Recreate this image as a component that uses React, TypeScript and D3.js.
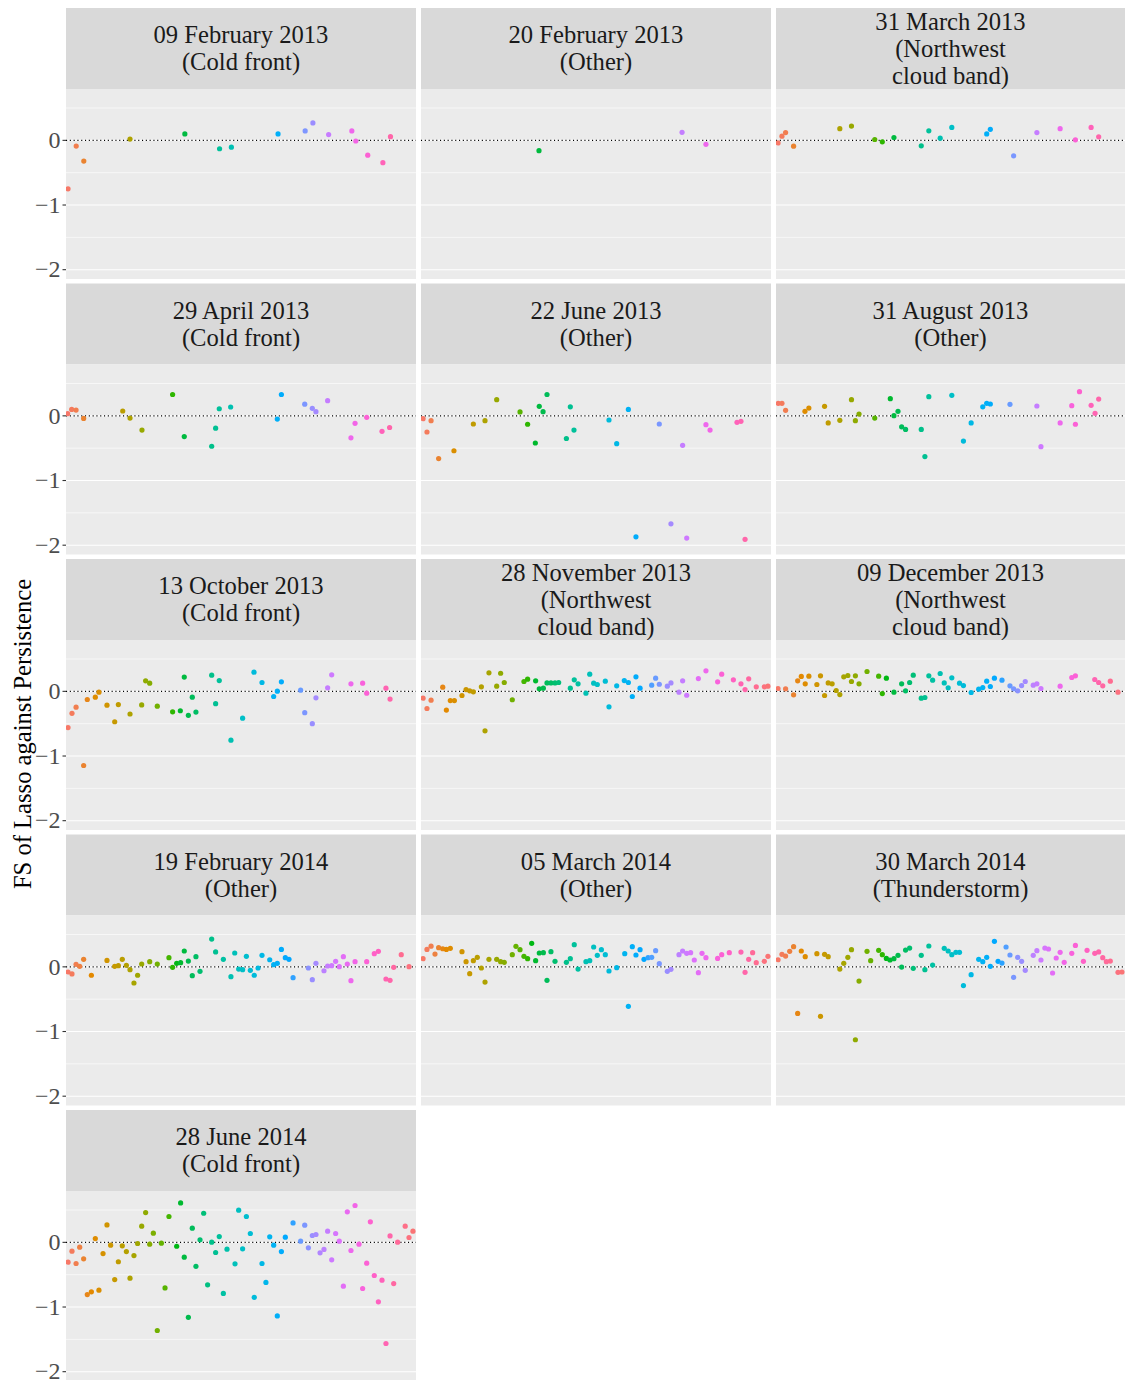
import React from "react";
import * as d3 from "d3";

// Each case: [hour of day, FS of Lasso against Persistence]
const feb09_2013: [number, number][] = [
  [0.14, -0.75], [0.7, -0.088], [1.22, -0.32], [4.39, 0.02], [8.15, 0.1], [10.53, -0.13], [11.34, -0.105],
  [14.54, 0.1], [16.4, 0.145], [16.93, 0.27], [18.01, 0.09], [19.6, 0.145], [19.87, -0.01], [20.69, -0.23],
  [21.73, -0.345], [22.25, 0.057],
];
const feb20_2013: [number, number][] = [[8.09, -0.16], [17.9, 0.124], [19.54, -0.062]];
const mar31_2013: [number, number][] = [
  [0.14, -0.04], [0.41, 0.064], [0.66, 0.12], [1.21, -0.09], [4.39, 0.18], [5.19, 0.22], [6.79, 0.013],
  [7.31, -0.023], [8.11, 0.044], [9.99, -0.085], [10.51, 0.147], [11.29, 0.034], [12.09, 0.2], [14.49, 0.1],
  [14.74, 0.17], [16.34, -0.24], [17.94, 0.12], [19.54, 0.18], [20.59, 0.008], [21.67, 0.2], [22.19, 0.054],
];
const apr29_2013: [number, number][] = [
  [0.11, 0.034], [0.39, 0.1], [0.69, 0.09], [1.21, -0.04], [3.89, 0.075], [4.39, -0.034], [5.21, -0.22],
  [7.31, 0.33], [8.11, -0.32], [9.99, -0.47], [10.26, -0.19], [10.51, 0.11], [11.29, 0.137], [14.49, -0.05],
  [14.77, 0.33], [16.37, 0.18], [16.89, 0.116], [17.14, 0.064], [17.94, 0.235], [19.54, -0.34], [19.82, -0.116],
  [20.62, -0.023], [21.67, -0.24], [22.19, -0.18],
];
const jun22_2013: [number, number][] = [
  [0.14, -0.044], [0.41, -0.25], [0.69, -0.075], [1.21, -0.66], [2.26, -0.54], [3.59, -0.126], [4.39, -0.075],
  [5.19, 0.25], [6.79, 0.06], [7.31, -0.13], [7.84, -0.42], [8.11, 0.147], [8.37, 0.064], [8.64, 0.33],
  [9.97, -0.35], [10.24, 0.14], [10.49, -0.22], [12.89, -0.064], [13.42, -0.43], [14.22, 0.1], [14.74, -1.87],
  [16.34, -0.126], [17.14, -1.67], [17.94, -0.456], [18.22, -1.89], [19.54, -0.137], [19.82, -0.22],
  [21.67, -0.1], [21.94, -0.085], [22.22, -1.91],
];
const aug31_2013: [number, number][] = [
  [0.16, 0.193], [0.41, 0.193], [0.66, 0.085], [1.99, 0.07], [2.26, 0.12], [3.34, 0.147], [3.59, -0.11],
  [4.39, -0.07], [5.19, 0.25], [5.46, -0.075], [5.71, 0.028], [6.79, -0.034], [7.86, 0.265], [8.11, 0.003],
  [8.39, 0.07], [8.64, -0.17], [8.91, -0.21], [9.99, -0.21], [10.24, -0.63], [10.51, 0.296], [12.09, 0.317],
  [12.89, -0.39], [13.42, -0.11], [14.22, 0.14], [14.49, 0.193], [14.74, 0.183], [16.09, 0.178], [17.94, 0.152],
  [18.22, -0.477], [19.54, -0.11], [20.34, 0.157], [20.59, -0.13], [20.87, 0.374], [21.67, 0.162],
  [21.94, 0.039], [22.19, 0.26],
];
const oct13_2013: [number, number][] = [
  [0.14, -0.56], [0.41, -0.34], [0.69, -0.245], [1.21, -1.147], [1.46, -0.126], [2.01, -0.09], [2.26, -0.013],
  [2.81, -0.214], [3.34, -0.47], [3.59, -0.204], [4.39, -0.35], [5.19, -0.21], [5.46, 0.162], [5.74, 0.126],
  [6.26, -0.23], [7.31, -0.317], [7.84, -0.3], [8.11, 0.22], [8.39, -0.37], [8.66, -0.09], [8.91, -0.32],
  [9.99, 0.25], [10.26, -0.19], [10.51, 0.167], [11.31, -0.755], [12.11, -0.415], [12.89, 0.296],
  [13.44, 0.137], [14.24, -0.08], [14.49, 0.003], [14.77, 0.147], [16.09, 0.018], [16.37, -0.33],
  [16.89, -0.5], [17.14, -0.1], [17.94, 0.054], [18.22, 0.255], [19.54, 0.116], [20.34, 0.126],
  [20.62, -0.028], [21.94, 0.049], [22.22, -0.12],
];
const nov28_2013: [number, number][] = [
  [0.14, -0.106], [0.41, -0.265], [0.69, -0.137], [1.49, 0.064], [1.74, -0.29], [2.01, -0.142], [2.29, -0.142],
  [2.81, -0.064], [3.09, 0.028], [3.34, 0.008], [3.59, -0.008], [4.14, 0.07], [4.39, -0.61], [4.66, 0.286],
  [5.19, 0.08], [5.46, 0.28], [5.71, 0.137], [6.26, -0.13], [7.06, 0.152], [7.31, 0.188], [7.86, 0.162],
  [8.11, 0.039], [8.39, 0.049], [8.64, 0.13], [8.91, 0.13], [9.19, 0.13], [9.44, 0.137], [10.24, 0.049],
  [10.51, 0.178], [10.77, 0.116], [11.31, -0.028], [11.57, 0.265], [11.84, 0.126], [12.09, 0.106],
  [12.64, 0.157], [12.89, -0.24], [13.42, 0.085], [13.94, 0.167], [14.22, 0.137], [14.49, -0.08],
  [14.74, 0.224], [15.02, 0.049], [15.82, 0.095], [16.09, 0.204], [16.34, 0.11], [16.89, 0.08], [17.14, 0.13],
  [17.69, -0.013], [17.94, 0.162], [18.22, -0.06], [19.02, 0.198], [19.54, 0.317], [20.34, 0.147],
  [20.62, 0.265], [21.42, 0.178], [21.94, 0.116], [22.22, 0.028], [22.47, 0.193], [22.99, 0.07],
  [23.54, 0.07], [23.79, 0.08],
];
const dec09_2013: [number, number][] = [
  [0.14, 0.044], [0.66, 0.039], [1.21, -0.054], [1.49, 0.162], [1.74, 0.23], [2.01, 0.116], [2.26, 0.235],
  [2.81, 0.106], [3.06, 0.24], [3.34, -0.064], [3.59, 0.13], [3.86, 0.116], [4.14, 0.013], [4.39, -0.05],
  [4.66, 0.224], [4.94, 0.245], [5.19, 0.152], [5.46, 0.24], [5.71, 0.116], [6.26, 0.307], [7.06, 0.235],
  [7.31, -0.034], [7.59, 0.204], [8.11, -0.013], [8.64, 0.116], [8.91, 0.008], [9.19, 0.137], [9.44, 0.25],
  [9.99, -0.106], [10.24, -0.095], [10.51, 0.24], [10.77, 0.173], [11.29, 0.276], [11.57, 0.131],
  [11.84, 0.054], [12.09, 0.209], [12.62, 0.126], [12.89, 0.09], [13.42, -0.018], [13.94, 0.034],
  [14.22, 0.059], [14.49, 0.157], [14.74, 0.075], [15.02, 0.204], [15.54, 0.173], [16.09, 0.085],
  [16.34, 0.039], [16.62, 0.008], [16.89, 0.09], [17.14, 0.152], [17.69, 0.095], [17.94, 0.116],
  [18.22, 0.044], [19.54, 0.08], [20.34, 0.214], [20.59, 0.24], [21.92, 0.183], [22.19, 0.137],
  [22.47, 0.085], [22.99, 0.157], [23.52, -0.013],
];
const feb19_2014: [number, number][] = [
  [0.14, -0.08], [0.41, -0.11], [0.69, 0.039], [0.94, 0.008], [1.21, 0.116], [1.74, -0.13], [2.81, 0.1],
  [3.34, 0.008], [3.59, 0.018], [3.86, 0.116], [4.14, 0.023], [4.39, -0.044], [4.66, -0.25], [4.91, -0.13],
  [5.19, 0.044], [5.74, 0.08], [6.26, 0.044], [7.06, 0.142], [7.31, -0.008], [7.59, 0.054], [7.86, 0.064],
  [8.11, 0.245], [8.39, 0.09], [8.66, -0.137], [8.91, 0.157], [9.19, -0.07], [9.99, 0.43], [10.26, 0.23],
  [10.79, 0.116], [11.31, -0.152], [11.57, 0.214], [11.84, -0.034], [12.11, -0.044], [12.37, 0.162],
  [12.64, -0.054], [12.91, -0.13], [13.17, -0.018], [13.44, 0.178], [13.97, 0.11], [14.24, 0.034],
  [14.49, 0.054], [14.77, 0.27], [15.04, 0.142], [15.29, 0.116], [15.57, -0.167], [16.62, -0.018],
  [16.89, -0.198], [17.14, 0.054], [17.69, -0.06], [17.94, 0.013], [18.22, 0.018], [18.49, 0.085],
  [18.74, 0.003], [19.02, 0.157], [19.29, 0.044], [19.54, -0.214], [19.82, 0.08], [20.62, 0.08],
  [21.14, 0.204], [21.42, 0.24], [21.94, -0.188], [22.22, -0.209], [22.47, -0.008], [22.99, 0.188],
  [23.52, 0.003],
];
const mar05_2014: [number, number][] = [
  [0.14, 0.126], [0.41, 0.27], [0.69, 0.32], [0.96, 0.198], [1.21, 0.296], [1.49, 0.28], [1.74, 0.27],
  [2.01, 0.286], [2.81, 0.235], [3.09, 0.08], [3.34, -0.106], [3.59, 0.095], [3.86, 0.147], [4.14, -0.018],
  [4.39, -0.235], [4.66, 0.116], [5.19, 0.116], [5.46, 0.08], [5.71, 0.07], [6.26, 0.188], [6.51, 0.317],
  [6.79, 0.265], [7.06, 0.162], [7.31, 0.126], [7.59, 0.363], [7.86, 0.095], [8.11, 0.214], [8.39, 0.219],
  [8.64, -0.209], [8.91, 0.235], [9.19, 0.085], [9.97, 0.07], [10.24, 0.126], [10.51, 0.343], [10.77, -0.034],
  [11.31, 0.08], [11.57, 0.095], [11.84, 0.307], [12.09, 0.178], [12.37, 0.265], [12.64, 0.188],
  [12.89, -0.064], [13.42, -0.013], [13.97, 0.204], [14.22, -0.61], [14.49, 0.312], [14.74, 0.183],
  [15.02, 0.265], [15.29, 0.116], [15.57, 0.142], [15.82, 0.147], [16.09, 0.25], [16.34, 0.049],
  [16.89, -0.07], [17.14, -0.039], [17.69, 0.188], [17.94, 0.245], [18.22, 0.209], [18.49, 0.219],
  [18.74, 0.106], [19.02, -0.09], [19.27, 0.209], [19.54, 0.142], [20.34, 0.131], [20.62, 0.188],
  [21.14, 0.219], [21.94, 0.229], [22.22, -0.085], [22.47, 0.116], [22.74, 0.219], [22.99, 0.064],
  [23.54, 0.085], [23.79, 0.162],
];
const mar30_2014: [number, number][] = [
  [0.14, 0.11], [0.41, 0.193], [0.66, 0.167], [0.94, 0.24], [1.21, 0.312], [1.49, -0.72], [1.74, 0.245],
  [2.01, 0.157], [2.81, 0.204], [3.06, -0.765], [3.34, 0.193], [3.59, 0.157], [4.39, -0.034], [4.66, 0.054],
  [4.94, 0.147], [5.19, 0.265], [5.46, -1.127], [5.71, -0.22], [6.26, 0.24], [6.51, 0.095], [7.06, 0.255],
  [7.31, 0.188], [7.59, 0.131], [7.84, 0.106], [8.11, 0.126], [8.39, 0.178], [8.64, -0.003], [8.91, 0.26],
  [9.19, 0.29], [9.44, -0.023], [9.99, 0.178], [10.24, -0.044], [10.51, 0.322], [10.77, 0.028],
  [11.57, 0.286], [11.84, 0.245], [12.09, 0.188], [12.37, 0.224], [12.62, 0.224], [12.89, -0.29],
  [13.42, -0.121], [13.94, 0.116], [14.22, 0.08], [14.49, 0.147], [14.74, 0.008], [15.02, 0.394],
  [15.27, 0.085], [15.54, 0.059], [15.82, 0.307], [16.09, 0.183], [16.34, -0.162], [16.62, 0.147],
  [16.89, 0.085], [17.14, -0.054], [17.69, 0.178], [17.94, 0.25], [18.22, 0.106], [18.49, 0.29],
  [18.74, 0.276], [19.02, -0.095], [19.27, 0.137], [19.54, 0.224], [19.82, 0.07], [20.34, 0.209],
  [20.59, 0.332], [21.14, 0.085], [21.39, 0.255], [21.92, 0.209], [22.19, 0.23], [22.47, 0.142],
  [22.72, 0.08], [22.99, 0.09], [23.52, -0.085], [23.79, -0.08],
];
const jun28_2014: [number, number][] = [
  [0.14, -0.307], [0.41, -0.137], [0.69, -0.327], [0.94, -0.075], [1.21, -0.255], [1.46, -0.807],
  [1.74, -0.765], [2.01, 0.059], [2.26, -0.74], [2.54, -0.173], [2.81, 0.27], [3.06, -0.044], [3.34, -0.575],
  [3.59, -0.3], [3.86, -0.054], [4.14, -0.142], [4.39, -0.554], [4.66, -0.204], [4.91, -0.018], [5.19, 0.25],
  [5.46, 0.46], [5.74, -0.028], [5.99, 0.142], [6.26, -1.363], [6.54, -0.013], [6.79, -0.704], [7.06, 0.4],
  [7.59, -0.06], [7.86, 0.61], [8.11, -0.23], [8.39, -1.16], [8.66, 0.219], [8.91, -0.37], [9.19, 0.039],
  [9.44, 0.45], [9.71, -0.657], [9.99, 0.003], [10.26, -0.157], [10.51, 0.09], [10.79, -0.79],
  [11.04, -0.106], [11.59, -0.332], [11.84, 0.497], [12.11, -0.1], [12.37, 0.4], [12.64, 0.137],
  [12.91, -0.85], [13.44, -0.327], [13.71, -0.62], [13.97, 0.085], [14.24, -0.044], [14.49, -1.137],
  [14.77, -0.142], [15.04, 0.08], [15.57, 0.3], [16.09, 0.018], [16.37, 0.265], [16.62, -0.085],
  [16.89, 0.106], [17.14, 0.121], [17.42, -0.162], [17.69, -0.11], [17.94, 0.173], [18.22, -0.27],
  [18.49, 0.137], [18.74, 0.018], [19.02, -0.678], [19.29, 0.472], [19.54, -0.126], [19.82, 0.57],
  [20.09, -0.028], [20.34, -0.714], [20.62, -0.322], [20.87, 0.317], [21.14, -0.513], [21.42, -0.92],
  [21.67, -0.585], [21.94, -1.564], [22.22, 0.1], [22.47, -0.637], [22.74, 0.003], [23.26, 0.25],
  [23.52, 0.075], [23.79, 0.173],
];

const panelLabels: string[][] = [
  ["09 February 2013", "(Cold front)"],
  ["20 February 2013", "(Other)"],
  ["31 March 2013", "(Northwest", "cloud band)"],
  ["29 April 2013", "(Cold front)"],
  ["22 June 2013", "(Other)"],
  ["31 August 2013", "(Other)"],
  ["13 October 2013", "(Cold front)"],
  ["28 November 2013", "(Northwest", "cloud band)"],
  ["09 December 2013", "(Northwest", "cloud band)"],
  ["19 February 2014", "(Other)"],
  ["05 March 2014", "(Other)"],
  ["30 March 2014", "(Thunderstorm)"],
  ["28 June 2014", "(Cold front)"],
];
const panelData = [
  feb09_2013, feb20_2013, mar31_2013, apr29_2013, jun22_2013, aug31_2013, oct13_2013,
  nov28_2013, dec09_2013, feb19_2014, mar05_2014, mar30_2014, jun28_2014,
];

const yMajor = [0, -1, -2];
const yMinor = [0.5, -0.5, -1.5];
const yTickLabels = ["0", "\u22121", "\u22122"];
const yTitle = "FS of Lasso against Persistence";

// polar LUV (as in grDevices::hcl) to sRGB hex
function hclLuv(h: number, c: number, l: number): string {
  const Xn = 95.047, Yn = 100, Zn = 108.883;
  const un = (4 * Xn) / (Xn + 15 * Yn + 3 * Zn);
  const vn = (9 * Yn) / (Xn + 15 * Yn + 3 * Zn);
  const hr = (h * Math.PI) / 180;
  const U = c * Math.cos(hr), V = c * Math.sin(hr);
  const Y = l > 8 ? Yn * Math.pow((l + 16) / 116, 3) : (Yn * l) / 903.3;
  const u = U / (13 * l) + un;
  const v = V / (13 * l) + vn;
  const X = (9 * Y * u) / (4 * v);
  const Z = -X / 3 - 5 * Y + (3 * Y) / v;
  const x = X / 100, y = Y / 100, z = Z / 100;
  const lin = [
    3.240479 * x - 1.53715 * y - 0.498535 * z,
    -0.969256 * x + 1.875992 * y + 0.041556 * z,
    0.055648 * x - 0.204043 * y + 1.057311 * z,
  ];
  const g = lin.map((t) => {
    const s = t <= 0.0031308 ? 12.92 * t : 1.055 * Math.pow(t, 1 / 2.4) - 0.055;
    return Math.round(Math.max(0, Math.min(1, s)) * 255);
  });
  return d3.rgb(g[0], g[1], g[2]).formatHex();
}

const FONT = "'Liberation Serif', 'Times New Roman', serif";
const colLeft = [66, 421, 776];
const colWidth = [350, 350, 349];
const rowPitch = 275.5;
const top0 = 8;
const stripH = 81;
const plotH = 190;

export default function App() {
  const x = d3.scaleLinear().domain([0, 24]);
  const hue = d3.scaleLinear().domain([0, 24]).range([15, 375]);
  const yBase = d3.scaleLinear().domain([-2.144, 0.794]).range([plotH, 0]);

  return (
    <div style={{ position: "absolute", left: 0, top: 0 }}>
      <svg width={1125} height={1380} style={{ display: "block", background: "#ffffff" }} fontFamily={FONT}>
        <defs>
          {panelData.map((_, i) => {
            const c = i % 3;
            return (
              <clipPath id={`clip${i}`} key={i}>
                <rect x={0} y={0} width={colWidth[c]} height={plotH} />
              </clipPath>
            );
          })}
        </defs>
        {panelData.map((pts, i) => {
          const c = i % 3, r = Math.floor(i / 3);
          const left = colLeft[c];
          const w = colWidth[c];
          const stripTop = top0 + r * rowPitch;
          const plotTop = stripTop + stripH;
          const xs = x.copy().range([0, w]);
          const lines = panelLabels[i];
          const cy = stripH / 2;
          return (
            <g key={i}>
              <g transform={`translate(${left},${stripTop})`}>
                <rect width={w} height={stripH} fill="#D9D9D9" />
                {lines.map((t, k) => (
                  <text
                    key={k}
                    x={w / 2}
                    y={cy + (k - (lines.length - 1) / 2) * 27 + 8}
                    textAnchor="middle"
                    fontSize={24.6}
                    fill="#1A1A1A"
                  >
                    {t}
                  </text>
                ))}
              </g>
              <g transform={`translate(${left},${plotTop})`}>
                <rect width={w} height={plotH} fill="#EBEBEB" />
                {yMinor.map((v) => (
                  <line key={`mi${v}`} x1={0} x2={w} y1={yBase(v)} y2={yBase(v)} stroke="#ffffff" strokeWidth={0.6} />
                ))}
                {yMajor.map((v) => (
                  <line key={`ma${v}`} x1={0} x2={w} y1={yBase(v)} y2={yBase(v)} stroke="#ffffff" strokeWidth={1.1} />
                ))}
                <line
                  x1={0}
                  x2={w}
                  y1={yBase(0)}
                  y2={yBase(0)}
                  stroke="#000000"
                  strokeWidth={1.1}
                  strokeDasharray="1.1 2.7"
                />
                <g clipPath={`url(#clip${i})`}>
                  {pts.map(([h, v], k) => (
                    <circle key={k} cx={xs(h)} cy={yBase(v)} r={2.6} fill={hclLuv(hue(h), 100, 65)} />
                  ))}
                </g>
              </g>
              {c === 0 && (
                <g transform={`translate(${left},${plotTop})`}>
                  {yMajor.map((v, k) => (
                    <g key={k}>
                      <line x1={-3.5} x2={0} y1={yBase(v)} y2={yBase(v)} stroke="#333333" strokeWidth={1.1} />
                      <text
                        x={-5.5}
                        y={yBase(v)}
                        dy="0.32em"
                        textAnchor="end"
                        fontSize={24}
                        fill="#4D4D4D"
                      >
                        {yTickLabels[k]}
                      </text>
                    </g>
                  ))}
                </g>
              )}
            </g>
          );
        })}
        <text
          transform="translate(31,734) rotate(-90)"
          textAnchor="middle"
          fontSize={24.6}
          fill="#000000"
        >
          {yTitle}
        </text>
      </svg>
    </div>
  );
}
